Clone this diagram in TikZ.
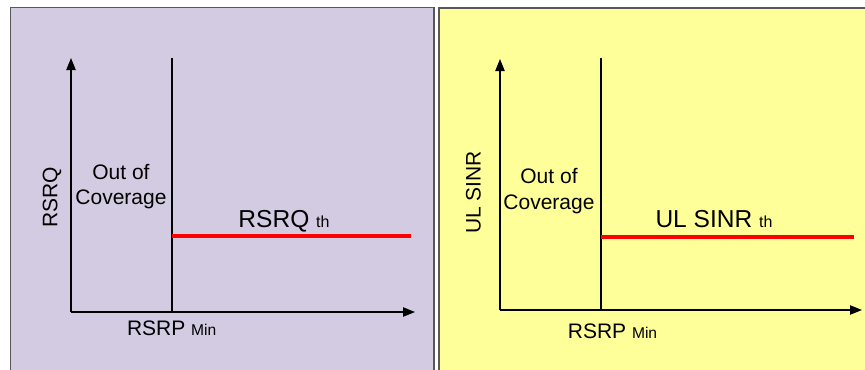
\documentclass[tikz,border=0pt]{standalone}
\usepackage{fontspec}
\setmainfont{Liberation Sans}
\definecolor{lteLavender}{HTML}{D3CBE1}
\definecolor{lteYellow}{HTML}{FFFF99}
\definecolor{lteFrame}{HTML}{585858}
\definecolor{lteRed}{HTML}{FF0000}
\usetikzlibrary{
	arrows.meta,
	positioning
}

\begin{document}
\begin{tikzpicture}[x=0.75pt, y=-0.75pt,
		panel/.style={draw=lteFrame, line width=1.1pt},
		axis/.style={line width=0.9pt, -{Triangle[length=9pt,width=7pt]}},
		bound/.style={line width=0.9pt},
		thresh/.style={draw=lteRed, line width=3pt},
		lbl/.style={font=\fontsize{15.75}{18.9}\selectfont, inner sep=0pt, anchor=base},
		thlbl/.style={lbl, font=\fontsize{18.4}{22}\selectfont},
		vlbl/.style={lbl, rotate=90}]
		\clip (0,0) rectangle (865,369);
		% left panel
		\draw[panel, fill=lteLavender] (10.5,7.5) rectangle (434,380);
		\coordinate (qO) at (71,312);
		\coordinate (qTop) at (71,58);
		\coordinate (qEnd) at (415,312);
		\coordinate (qMin) at (172,312);
		\coordinate (qMinTop) at (172,58);
		\coordinate (qThA) at (172,236);
		\coordinate (qThB) at (411,236);
		\draw[axis] (qO) -- (qTop);
		\draw[axis] (qO) -- (qEnd);
		\draw[bound] (qMin) -- (qMinTop);
		\draw[thresh] (qThA) -- (qThB);
		\node[vlbl] (qAxis) at (57.3,197) {RSRQ};
		\node[lbl] (qOut) at (121,179.3) {Out of};
		\node[lbl] (qCov) at (121,204.3) {Coverage};
		\node[thlbl] (qTh) at (284,227.3) {RSRQ {\fontsize{12}{14}\selectfont th}};
		\node[lbl] (qRsrp) at (171.7,335.7) {RSRP {\fontsize{11.7}{14}\selectfont Min}};
		% right panel
		\draw[panel, fill=lteYellow] (439,8) rectangle (880,380);
		\coordinate (sO) at (500,310);
		\coordinate (sTop) at (500,59);
		\coordinate (sEnd) at (862,310);
		\coordinate (sMin) at (601,310);
		\coordinate (sMinTop) at (601,58);
		\coordinate (sThA) at (601,237);
		\coordinate (sThB) at (854,237);
		\draw[axis] (sO) -- (sTop);
		\draw[axis] (sO) -- (sEnd);
		\draw[bound] (sMin) -- (sMinTop);
		\draw[thresh] (sThA) -- (sThB);
		\node[vlbl] (sAxis) at (480.7,192.5) {UL SINR};
		\node[lbl] (sOut) at (549,183.3) {Out of};
		\node[lbl] (sCov) at (549,209.5) {Coverage};
		\node[thlbl] (sTh) at (714,227.7) {UL SINR {\fontsize{12}{14}\selectfont th}};
		\node[lbl] (sRsrp) at (612.5,338.3) {RSRP {\fontsize{11.7}{14}\selectfont Min}};
	\end{tikzpicture}
\end{document}
